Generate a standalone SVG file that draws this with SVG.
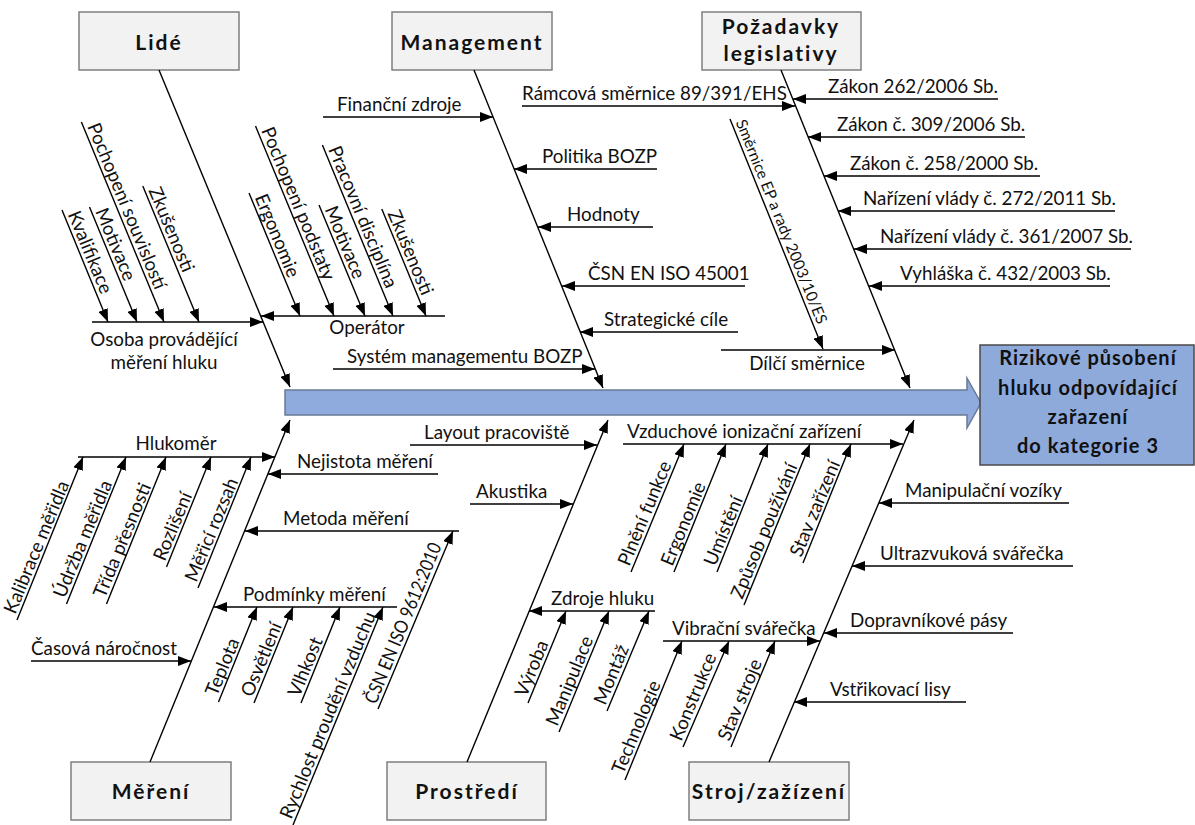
<svg xmlns="http://www.w3.org/2000/svg" width="1195" height="825" viewBox="0 0 1195 825">
<style>
.box{fill:#f2f2f2;stroke:#7f7f7f;stroke-width:1.5}
.ttl{font-family:Lato,"Liberation Sans",sans-serif;font-weight:bold;font-size:21px;letter-spacing:2px;fill:#111;text-anchor:middle}
.res{font-family:Lato,"Liberation Sans",sans-serif;font-weight:bold;font-size:20px;letter-spacing:1px;fill:#111;text-anchor:middle}
.t{font-family:Lato,"Liberation Sans",sans-serif;font-size:18.8px;fill:#111}
.s{font-family:Lato,"Liberation Sans",sans-serif;font-size:15.5px;fill:#111}
.c{text-anchor:middle}
.ln line{stroke:#000;stroke-width:1.4;fill:none;marker-end:url(#ah)}
</style>
<defs>
<marker id="ah" viewBox="0 0 13 10" refX="13" refY="5" markerWidth="13" markerHeight="10" orient="auto" markerUnits="userSpaceOnUse">
<path d="M0,0 L13,5 L0,10 z" fill="#000"/>
</marker>
</defs>
<rect width="1195" height="825" fill="#fff"/>

<g id="main-arrow">
<polygon points="285,390 967,390 967,378 981,403 967,428 967,415 285,415" fill="#8faadc" stroke="#6b7a94" stroke-width="1.5"/>
</g>

<g id="result">
<rect x="980" y="345" width="214" height="120" fill="#8eaadb" stroke="#4a4a4a" stroke-width="1.5"/>
<text class="res" x="1088" y="365">Rizikové působení</text>
<text class="res" x="1088" y="395">hluku odpovídající</text>
<text class="res" x="1088" y="424">zařazení</text>
<text class="res" x="1088" y="453">do kategorie 3</text>
</g>

<g id="lide"><rect class="box" x="79" y="12" width="160" height="58"/><text class="ttl" x="159" y="50">Lidé</text></g>
<g id="management"><rect class="box" x="392" y="12" width="160" height="58"/><text class="ttl" x="472" y="50">Management</text></g>
<g id="pozadavky"><rect class="box" x="702" y="12" width="159" height="58"/><text class="ttl" x="781" y="34">Požadavky</text><text class="ttl" x="781" y="61">legislativy</text></g>
<g id="mereni"><rect class="box" x="71" y="762" width="160" height="58"/><text class="ttl" x="151" y="799">Měření</text></g>
<g id="prostredi"><rect class="box" x="387" y="762" width="159" height="58"/><text class="ttl" x="467" y="799">Prostředí</text></g>
<g id="stroj"><rect class="box" x="689" y="762" width="160" height="58"/><text class="ttl" x="769" y="799">Stroj/zažízení</text></g>

<g id="connectors" class="ln">
<line x1="159" y1="70" x2="290" y2="387"/>
<line x1="474" y1="70" x2="603" y2="388"/>
<line x1="781" y1="70" x2="910" y2="388"/>
<line x1="150" y1="762" x2="290" y2="420"/>
<line x1="467" y1="762" x2="608" y2="420"/>
<line x1="769" y1="762" x2="914" y2="420"/>
<line x1="92" y1="322" x2="263" y2="322"/>
<line x1="445" y1="316" x2="261" y2="316"/>
<line x1="323" y1="117" x2="493" y2="117"/>
<line x1="657" y1="169" x2="514" y2="169"/>
<line x1="653" y1="227" x2="538" y2="227"/>
<line x1="745" y1="286" x2="562" y2="286"/>
<line x1="738" y1="332" x2="580" y2="332"/>
<line x1="333" y1="369" x2="595" y2="369"/>
<line x1="522" y1="106" x2="795" y2="106"/>
<line x1="998" y1="99" x2="793" y2="99"/>
<line x1="1025" y1="137" x2="808" y2="137"/>
<line x1="1040" y1="176" x2="824" y2="176"/>
<line x1="1115" y1="211" x2="838" y2="211"/>
<line x1="1131" y1="249" x2="854" y2="249"/>
<line x1="1110" y1="286" x2="869" y2="286"/>
<line x1="721" y1="350" x2="895" y2="350"/>
<line x1="78" y1="457" x2="275" y2="457"/>
<line x1="438" y1="474" x2="268" y2="474"/>
<line x1="459" y1="531" x2="245" y2="531"/>
<line x1="397" y1="607" x2="214" y2="607"/>
<line x1="31" y1="661" x2="191" y2="661"/>
<line x1="410" y1="445" x2="597" y2="445"/>
<line x1="470" y1="504" x2="573" y2="504"/>
<line x1="655" y1="611" x2="529" y2="611"/>
<line x1="623" y1="444" x2="903" y2="444"/>
<line x1="1069" y1="503" x2="879" y2="503"/>
<line x1="1073" y1="566" x2="852" y2="566"/>
<line x1="1013" y1="633" x2="824" y2="633"/>
<line x1="663" y1="641" x2="820" y2="641"/>
<line x1="966" y1="702" x2="794" y2="702"/>
<line x1="62" y1="210" x2="108" y2="322"/>
<line x1="89.5" y1="207" x2="137" y2="322"/>
<line x1="81.4" y1="122" x2="164" y2="322"/>
<line x1="142.8" y1="186" x2="199" y2="322"/>
<line x1="249" y1="193" x2="300" y2="316"/>
<line x1="255.5" y1="126" x2="334" y2="316"/>
<line x1="319" y1="205" x2="365" y2="316"/>
<line x1="322.4" y1="145" x2="393" y2="316"/>
<line x1="381.8" y1="209" x2="426" y2="316"/>
<line x1="730" y1="119" x2="823" y2="349"/>
<line x1="17" y1="620" x2="83" y2="457"/>
<line x1="66.5" y1="604" x2="126" y2="457"/>
<line x1="106.5" y1="604" x2="166" y2="457"/>
<line x1="166.5" y1="567" x2="211" y2="457"/>
<line x1="198" y1="588" x2="251" y2="457"/>
<line x1="218.5" y1="702" x2="257" y2="607"/>
<line x1="254" y1="703" x2="293" y2="607"/>
<line x1="301" y1="703" x2="340" y2="607"/>
<line x1="293" y1="825" x2="383" y2="607"/>
<line x1="378" y1="709" x2="453" y2="531"/>
<line x1="528" y1="703" x2="566" y2="611"/>
<line x1="559" y1="732" x2="609" y2="611"/>
<line x1="607" y1="711" x2="649" y2="611"/>
<line x1="631" y1="572" x2="684" y2="444"/>
<line x1="674" y1="572" x2="726" y2="444"/>
<line x1="717" y1="572" x2="768" y2="444"/>
<line x1="744" y1="605" x2="810" y2="444"/>
<line x1="803" y1="563" x2="851" y2="444"/>
<line x1="625" y1="780" x2="682" y2="641"/>
<line x1="683" y1="747" x2="729" y2="641"/>
<line x1="731" y1="747" x2="775" y2="641"/>
</g>

<g id="labels">
<text class="t c" x="164" y="346">Osoba provádějící</text>
<text class="t c" x="164" y="369">měření hluku</text>
<text class="t c" x="367" y="334">Operátor</text>
<text class="t" x="337" y="111">Finanční zdroje</text>
<text class="t" x="542" y="163">Politika BOZP</text>
<text class="t" x="567" y="221">Hodnoty</text>
<text class="t" x="588" y="280">ČSN EN ISO 45001</text>
<text class="t" x="604" y="326">Strategické cíle</text>
<text class="t" x="347" y="363">Systém managementu BOZP</text>
<text class="t" x="522" y="100">Rámcová směrnice 89/391/EHS</text>
<text class="t" x="828" y="93">Zákon 262/2006 Sb.</text>
<text class="t" x="837" y="131">Zákon č. 309/2006 Sb.</text>
<text class="t" x="850" y="170">Zákon č. 258/2000 Sb.</text>
<text class="t" x="863" y="205">Nařízení vlády č. 272/2011 Sb.</text>
<text class="t" x="880" y="243">Nařízení vlády č. 361/2007 Sb.</text>
<text class="t" x="900" y="280">Vyhláška č. 432/2003 Sb.</text>
<text class="t c" x="807" y="370">Dílčí směrnice</text>
<text class="t c" x="176" y="450">Hlukoměr</text>
<text class="t" x="297" y="468">Nejistota měření</text>
<text class="t" x="283" y="525">Metoda měření</text>
<text class="t" x="243" y="601">Podmínky měření</text>
<text class="t" x="31" y="655">Časová náročnost</text>
<text class="t" x="424" y="439">Layout pracoviště</text>
<text class="t" x="476" y="498">Akustika</text>
<text class="t" x="551" y="605">Zdroje hluku</text>
<text class="t" x="627" y="438">Vzduchové ionizační zařízení</text>
<text class="t" x="905" y="497">Manipulační vozíky</text>
<text class="t" x="880" y="560">Ultrazvuková svářečka</text>
<text class="t" x="850" y="627">Dopravníkové pásy</text>
<text class="t" x="672" y="635">Vibrační svářečka</text>
<text class="t" x="830" y="696">Vstřikovací lisy</text>

<text class="t" transform="translate(62,210) rotate(67.5)" x="6" y="-3.5">Kvalifikace</text>
<text class="t" transform="translate(89.5,207) rotate(67.5)" x="6" y="-3.5">Motivace</text>
<text class="t" transform="translate(81.4,122) rotate(67.5)" x="6" y="-3.5">Pochopení souvislostí</text>
<text class="t" transform="translate(142.8,186) rotate(67.5)" x="6" y="-3.5">Zkušenosti</text>
<text class="t" transform="translate(249,193) rotate(67.5)" x="6" y="-3.5">Ergonomie</text>
<text class="t" transform="translate(255.5,126) rotate(67.5)" x="6" y="-3.5">Pochopení podstaty</text>
<text class="t" transform="translate(319,205) rotate(67.5)" x="6" y="-3.5">Motivace</text>
<text class="t" transform="translate(322.4,145) rotate(67.5)" x="6" y="-3.5">Pracovní disciplína</text>
<text class="t" transform="translate(381.8,209) rotate(67.5)" x="6" y="-3.5">Zkušenosti</text>
<text class="s" transform="translate(730,119) rotate(68)" x="5" y="-4">Směrnice EP a rady 2003/10/ES</text>

<text class="t" transform="translate(17,620) rotate(-67.5)" x="4" y="-3.5">Kalibrace měřidla</text>
<text class="t" transform="translate(66.5,604) rotate(-67.5)" x="4" y="-3.5">Údržba měřidla</text>
<text class="t" transform="translate(106.5,604) rotate(-67.5)" x="4" y="-3.5">Třída přesnosti</text>
<text class="t" transform="translate(166.5,567) rotate(-67.5)" x="4" y="-3.5">Rozlišení</text>
<text class="t" transform="translate(198,588) rotate(-67.5)" x="4" y="-3.5">Měřicí rozsah</text>
<text class="t" transform="translate(218.5,702) rotate(-67.5)" x="4" y="-3.5">Teplota</text>
<text class="t" transform="translate(254,703) rotate(-67.5)" x="4" y="-3.5">Osvětlení</text>
<text class="t" transform="translate(301,703) rotate(-67.5)" x="4" y="-3.5">Vlhkost</text>
<text class="t" transform="translate(293,825) rotate(-67.5)" x="4" y="-3.5">Rychlost proudění vzduchu</text>
<text class="t" transform="translate(378,709) rotate(-67.5)" x="3" y="-3.5" textLength="172" lengthAdjust="spacingAndGlyphs">ČSN EN ISO 9612:2010</text>
<text class="t" transform="translate(528,703) rotate(-67.5)" x="4" y="-3.5">Výroba</text>
<text class="t" transform="translate(559,732) rotate(-67.5)" x="4" y="-3.5">Manipulace</text>
<text class="t" transform="translate(607,711) rotate(-67.5)" x="4" y="-3.5">Montáž</text>
<text class="t" transform="translate(631,572) rotate(-67.5)" x="4" y="-3.5">Plnění funkce</text>
<text class="t" transform="translate(674,572) rotate(-67.5)" x="4" y="-3.5">Ergonomie</text>
<text class="t" transform="translate(717,572) rotate(-67.5)" x="4" y="-3.5">Umístění</text>
<text class="t" transform="translate(744,605) rotate(-67.5)" x="4" y="-3.5">Způsob používání</text>
<text class="t" transform="translate(803,563) rotate(-67.5)" x="4" y="-3.5">Stav zařízení</text>
<text class="t" transform="translate(625,780) rotate(-67.5)" x="4" y="-3.5">Technologie</text>
<text class="t" transform="translate(683,747) rotate(-67.5)" x="4" y="-3.5">Konstrukce</text>
<text class="t" transform="translate(731,747) rotate(-67.5)" x="4" y="-3.5">Stav stroje</text>
</g>
</svg>
